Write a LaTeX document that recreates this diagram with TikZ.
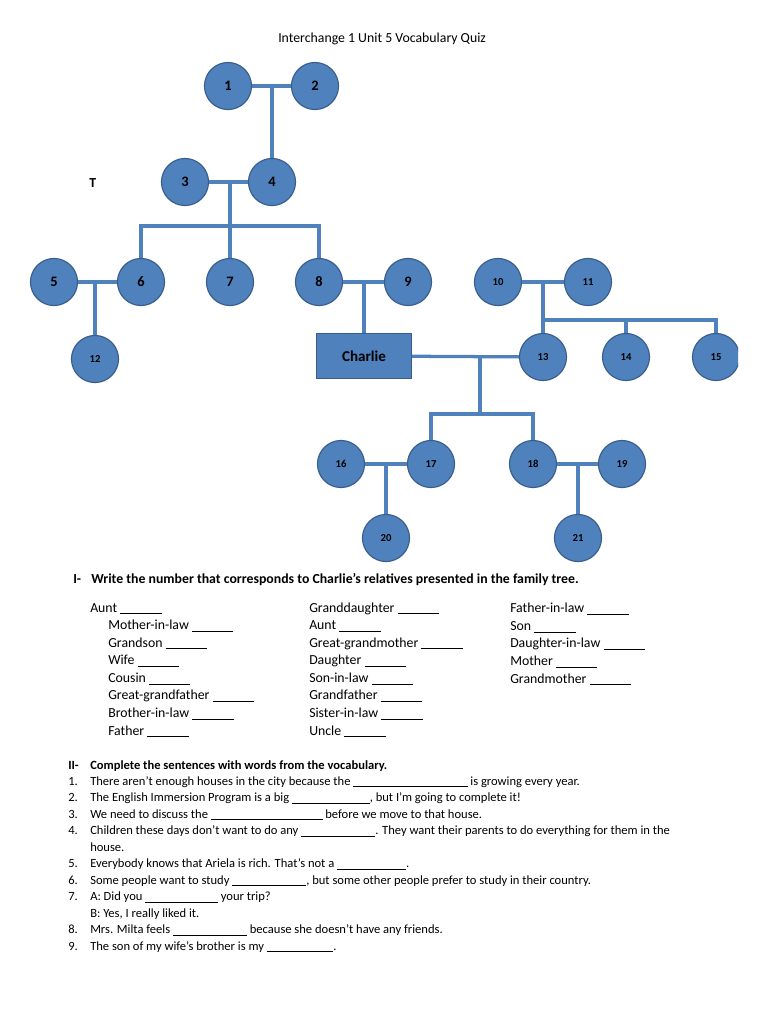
\documentclass[tikz,border=0pt]{standalone}
\usepackage{fontspec}
\setmainfont{Carlito}
\usetikzlibrary{positioning,calc}
\definecolor{famblue}{HTML}{4F81BD}
\definecolor{famedge}{HTML}{385D8A}
\newcommand{\blankgap}[1]{\rule[-1.6pt]{#1pt}{0.6pt}}
\tikzset{
  person/.style={circle, draw=famedge, line width=0.9pt, fill=famblue, minimum size=37.5pt, inner sep=0pt, font=\bfseries\fontsize{11.5}{12}\selectfont},
  smallperson/.style={person, font=\bfseries\fontsize{8.5}{10}\selectfont},
  mainbox/.style={draw=famedge, line width=0.9pt, fill=famblue, minimum width=75.7pt, minimum height=35.9pt, font=\bfseries\fontsize{12}{14}\selectfont},
  tieline/.style={draw=famblue, line width=2.6pt},
  quiztext/.style={anchor=base west, inner sep=0pt, align=left, font=\fontsize{11}{13.15}\selectfont},
  listtext/.style={quiztext, font=\fontsize{11}{14}\selectfont},
  sentencetext/.style={quiztext, font=\fontsize{10}{13.15}\selectfont},
  headtext/.style={quiztext, font=\bfseries\fontsize{11}{13.15}\selectfont},
  smallhead/.style={quiztext, font=\bfseries\fontsize{10}{13.15}\selectfont}
}
\begin{document}
\begin{tikzpicture}[x=0.797pt, y=-0.797pt]
  \useasboundingbox[fill=white] (0,0) rectangle (768,1024);
  % family tree
  \node[person] (p1) at (228,86) {1};
  \node[person] (p2) at (315,86) {2};
  \node[person] (p3) at (185,182) {3};
  \node[person] (p4) at (272,182) {4};
  \node[person] (p5) at (54,282) {5};
  \node[person] (p6) at (141,282) {6};
  \node[person] (p7) at (230,282) {7};
  \node[person] (p8) at (319,282) {8};
  \node[person] (p9) at (408,282) {9};
  \node[smallperson] (p10) at (498,282) {10};
  \node[smallperson] (p11) at (588,282) {11};
  \node[smallperson] (p12) at (95,359) {12};
  \node[mainbox] (charlie) at (364,356) {Charlie};
  \node[smallperson] (p13) at (543,357) {13};
  \node[smallperson] (p14) at (626,357) {14};
  \begin{scope}
    \clip (0,0) rectangle (738,1024);
    \node[smallperson] (p15) at (716,357) {15};
  \end{scope}
  \node[smallperson] (p16) at (341,464) {16};
  \node[smallperson] (p17) at (431,464) {17};
  \node[smallperson] (p18) at (533,464) {18};
  \node[smallperson] (p19) at (622,464) {19};
  \node[smallperson] (p20) at (386,538) {20};
  \node[smallperson] (p21) at (578,538) {21};
  \coordinate (j12) at (p4 |- p1);
  \coordinate (j34) at (p7 |- p3);
  \coordinate (bar34) at (230,226);
  \coordinate (j56) at (p12 |- p5);
  \coordinate (j89) at (charlie |- p8);
  \coordinate (j1011) at (p13 |- p10);
  \coordinate (bar1011) at (543,320);
  \coordinate (jch) at (480,357);
  \coordinate (barch) at (480,414);
  \coordinate (j1617) at (p20 |- p16);
  \coordinate (j1819) at (p21 |- p18);
  \draw[tieline] (p1) -- (p2);
  \draw[tieline] (j12) -- (p4);
  \draw[tieline] (p3) -- (p4);
  \draw[tieline] (j34) -- (p7);
  \draw[tieline] (p6) |- (bar34) -| (p8);
  \draw[tieline] (p5) -- (p6);
  \draw[tieline] (j56) -- (p12);
  \draw[tieline] (p8) -- (p9);
  \draw[tieline] (j89) -- (charlie);
  \draw[tieline] (p10) -- (p11);
  \draw[tieline] (j1011) -- (p13);
  \draw[tieline] (bar1011) -| (p15);
  \draw[tieline] (bar1011 -| p14) -- (p14);
  \draw[tieline] (charlie) -- (p13);
  \draw[tieline] (jch) -- (barch);
  \draw[tieline] (p17) |- (barch) -| (p18);
  \draw[tieline] (p16) -- (p17);
  \draw[tieline] (j1617) -- (p20);
  \draw[tieline] (p18) -- (p19);
  \draw[tieline] (j1819) -- (p21);
  % quiz text
  \node[quiztext] (title) at (278,42) {Interchange 1 Unit 5 Vocabulary Quiz};
  \node[headtext] (tmark) at (89,187) {T};
  \node[headtext] (partone) at (73,583) {I-};
  \node[headtext] (taskone) at (91,583) {Write the number that corresponds to Charlie’s relatives presented in the family tree.};
  \node[listtext] (aunt) at (90,612) {Aunt \blankgap{33}};
  \node[listtext] (colone) at (108,735) {Mother-in-law \blankgap{33}\\Grandson \blankgap{33}\\Wife \blankgap{33}\\Cousin \blankgap{33}\\Great-grandfather \blankgap{33}\\Brother-in-law \blankgap{33}\\Father \blankgap{33}};
  \node[listtext] (coltwo) at (309,735) {Granddaughter \blankgap{33}\\Aunt \blankgap{33}\\Great-grandmother \blankgap{33}\\Daughter \blankgap{33}\\Son-in-law \blankgap{33}\\Grandfather \blankgap{33}\\Sister-in-law \blankgap{33}\\Uncle \blankgap{33}};
  \node[listtext] (colthree) at (510,683) {Father-in-law \blankgap{33}\\Son \blankgap{33}\\Daughter-in-law \blankgap{33}\\Mother \blankgap{33}\\Grandmother \blankgap{33}};
  \node[smallhead] (parttwo) at (68,769) {II-};
  \node[smallhead] (tasktwo) at (90,769) {Complete the sentences with words from the vocabulary.};
  \node[sentencetext] (sentnums) at (68,950) {1.\\2.\\3.\\4.\\\mbox{}\\5.\\6.\\7.\\\mbox{}\\8.\\9.};
  \node[sentencetext] (sents) at (90,950) {There aren’t enough houses in the city because the \blankgap{91} is growing every year.\\
    The English Immersion Program is a big \blankgap{62}, but I’m going to complete it!\\
    We need to discuss the \blankgap{89} before we move to that house.\\
    Children these days don’t want to do any \blankgap{59}. They want their parents to do everything for them in the\\
    house.\\
    Everybody knows that Ariela is rich. That’s not a \blankgap{55}.\\
    Some people want to study \blankgap{59}, but some other people prefer to study in their country.\\
    A: Did you \blankgap{58} your trip?\\
    B: Yes, I really liked it.\\
    Mrs. Milta feels \blankgap{59} because she doesn’t have any friends.\\
    The son of my wife’s brother is my \blankgap{53}.};
\end{tikzpicture}
\end{document}
